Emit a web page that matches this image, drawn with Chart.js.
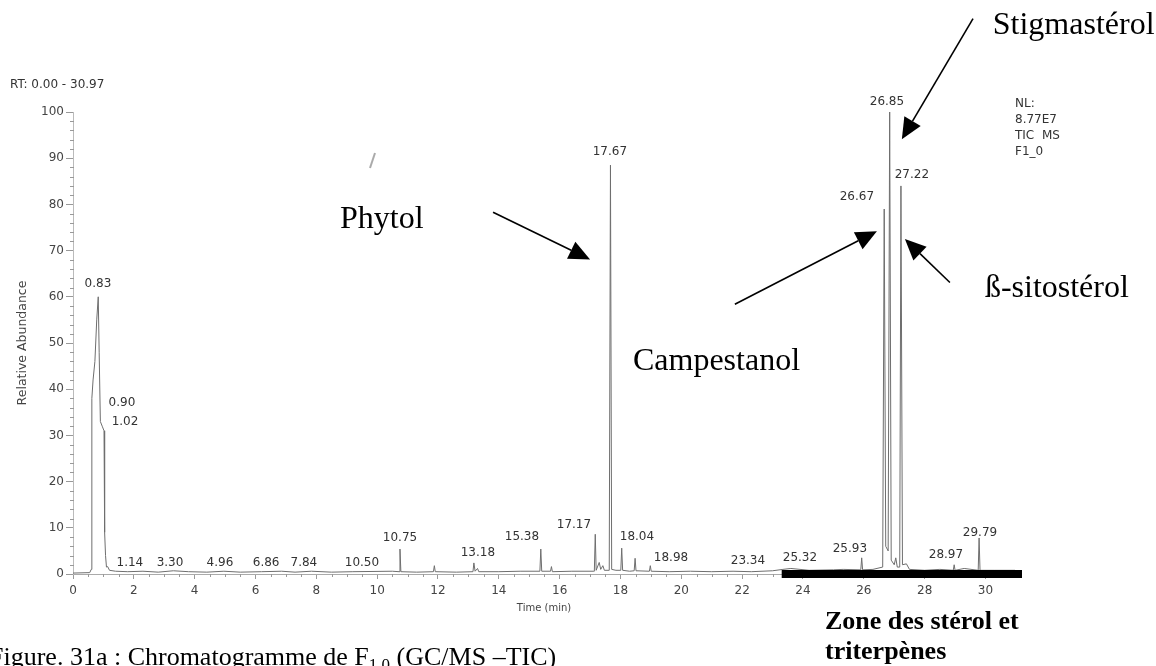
<!DOCTYPE html>
<html>
<head>
<meta charset="utf-8">
<title>Chromatogramme F1,0</title>
<script src="https://cdn.jsdelivr.net/npm/chart.js@4.4.1/dist/chart.umd.min.js"></script>
<style>
  html, body { margin: 0; padding: 0; background: #fff; }
  #wrap { position: relative; width: 1156px; height: 666px; overflow: hidden; }
</style>
</head>
<body>
<div id="wrap"><canvas id="chart" width="1156" height="666"></canvas></div>
<script>
// TIC trace : retention time (min) / relative abundance (%)
var retentionTimes = [
  0.00, 0.55, 0.60, 0.62, 0.66, 0.72, 0.78, 0.83, 0.86, 0.90, 0.96, 1.02, 1.04, 1.07, 1.10, 1.14, 1.20, 1.40,
  1.80, 2.30, 2.80, 3.30, 3.80, 4.40, 4.96, 5.50, 6.20, 6.86, 7.30, 7.84, 8.50, 9.20, 10.50,
  10.72, 10.75, 10.78, 11.30, 11.85, 11.88, 11.91, 12.60, 13.15, 13.18, 13.22, 13.30, 13.34,
  14.00, 14.70, 15.35, 15.38, 15.41, 15.70, 15.73, 15.76, 16.40, 17.10, 17.14, 17.17, 17.20,
  17.30, 17.35, 17.42, 17.47, 17.63, 17.67, 17.71, 17.85, 18.01, 18.04, 18.07, 18.30, 18.45,
  18.48, 18.51, 18.95, 18.98, 19.01, 19.60, 20.30, 21.00, 21.70, 22.30, 23.00, 23.34, 23.60,
  24.20, 25.00, 25.32, 25.90, 25.93, 25.96, 26.30, 26.62, 26.67, 26.72, 26.80, 26.85, 26.90,
  27.00, 27.05, 27.10, 27.18, 27.22, 27.27, 27.40, 27.50, 28.00, 28.50, 28.94, 28.97, 29.00,
  29.30, 29.76, 29.79, 29.82, 30.30, 30.97
];
var abundances = [
  0.2, 0.3, 1.0, 38, 42, 46, 55, 60, 48, 33, 32, 31, 9, 4, 1.5, 1.6, 0.8, 0.6,
  0.5, 0.6, 0.4, 0.7, 0.5, 0.4, 0.6, 0.4, 0.5, 0.6, 0.4, 0.6, 0.4, 0.5, 0.6,
  0.5, 5.4, 0.5, 0.4, 0.5, 1.8, 0.5, 0.4, 0.5, 2.4, 0.6, 1.2, 0.5,
  0.5, 0.6, 0.6, 5.4, 0.6, 0.6, 1.6, 0.5, 0.6, 0.6, 0.6, 8.6, 0.8,
  2.5, 1.0, 1.8, 0.8, 0.8, 88.5, 1.0, 0.8, 0.8, 5.6, 0.8, 0.6, 0.7,
  3.4, 0.7, 0.6, 1.8, 0.6, 0.5, 0.6, 0.5, 0.6, 0.5, 0.7, 1.0, 1.2,
  0.8, 0.9, 1.0, 0.9, 3.5, 0.9, 1.0, 1.5, 79, 6, 5, 100, 3,
  2, 3.5, 1.5, 1.5, 84, 2, 2.2, 1.0, 0.8, 1.0, 0.8, 2.0, 0.8,
  1.2, 0.8, 7.8, 0.8, 0.8, 0.8
];

// peak labels, placed at (time, level) as on the print-out
var peakLabels = ["0.83", "0.90", "1.02", "1.14", "3.30", "4.96", "6.86", "7.84", "10.50", "10.75", "13.18",
  "15.38", "17.17", "17.67", "18.04", "18.98", "23.34", "25.32", "25.93", "26.67", "26.85", "27.22", "28.97", "29.79"];
var labelTimes = [0.82, 1.61, 1.71, 1.87, 3.19, 4.83, 6.35, 7.59, 9.50, 10.75, 13.31,
  14.76, 16.47, 17.65, 18.54, 19.66, 22.19, 23.90, 25.54, 25.77, 26.76, 27.58, 28.70, 29.82];
var labelLevels = [62.7, 37.1, 33.0, 2.4, 2.4, 2.4, 2.4, 2.4, 2.4, 7.8, 4.6,
  8.0, 10.6, 91.3, 8.0, 3.5, 2.8, 3.5, 5.4, 81.6, 102.2, 86.3, 4.1, 8.9];

var yTicks = [0, 10, 20, 30, 40, 50, 60, 70, 80, 90, 100];
var xTicks = [0, 2, 4, 6, 8, 10, 12, 14, 16, 18, 20, 22, 24, 26, 28, 30];

// compounds pointed out on the figure
var compounds = ["Phytol", "Stigmastérol", "Campestanol", "ß-sitostérol"];
var compoundTimes = [8.78, 30.24, 18.41, 29.98];
var compoundLevels = [76.8, 118.6, 46.0, 61.8];
var arrowFromTimes = [13.81, 29.59, 21.76, 28.83];
var arrowFromLevels = [78.3, 120.2, 58.4, 63.1];
var arrowToTimes = [17.00, 27.25, 26.43, 27.35];
var arrowToLevels = [68.1, 94.1, 74.2, 72.5];

var sterolZone = [23.3, 31.2];

var tickFont = { family: "DejaVu Sans", size: 12 };
var grey = "#444";

function drawArrow(ctx, x1, y1, x2, y2) {
  var a = Math.atan2(y2 - y1, x2 - x1);
  var len = 21, half = 9.5;
  var bx = x2 - len * Math.cos(a), by = y2 - len * Math.sin(a);
  ctx.beginPath();
  ctx.moveTo(x1, y1);
  ctx.lineTo(bx, by);
  ctx.stroke();
  ctx.beginPath();
  ctx.moveTo(x2, y2);
  ctx.lineTo(bx + half * Math.sin(a), by - half * Math.cos(a));
  ctx.lineTo(bx - half * Math.sin(a), by + half * Math.cos(a));
  ctx.closePath();
  ctx.fill();
}

var overlay = {
  id: "overlay",
  afterDraw: function (chart) {
    var ctx = chart.ctx;
    var xs = chart.scales.x, ys = chart.scales.y;
    var area = chart.chartArea;
    ctx.save();

    // minor ticks
    ctx.strokeStyle = "#999";
    ctx.lineWidth = 1;
    ctx.beginPath();
    for (var v = 2; v < 100; v += 2) {
      if (v % 10 === 0) continue;
      var py = Math.round(ys.getPixelForValue(v)) + 0.5;
      ctx.moveTo(area.left - 3, py);
      ctx.lineTo(area.left + 1, py);
    }
    for (var t = 0.5; t < 30.97; t += 0.5) {
      if (t % 2 === 0) continue;
      var px = Math.round(xs.getPixelForValue(t)) + 0.5;
      ctx.moveTo(px, area.bottom);
      ctx.lineTo(px, area.bottom + 3);
    }
    ctx.stroke();

    // stray pen mark on the scan
    ctx.strokeStyle = "#aaa";
    ctx.lineWidth = 2;
    ctx.beginPath();
    ctx.moveTo(370, 168);
    ctx.lineTo(375, 153);
    ctx.stroke();

    // peak labels
    ctx.font = '12px "DejaVu Sans"';
    ctx.fillStyle = "#333";
    ctx.textAlign = "center";
    ctx.textBaseline = "middle";
    peakLabels.forEach(function (txt, i) {
      ctx.fillText(txt, xs.getPixelForValue(labelTimes[i]), ys.getPixelForValue(labelLevels[i]));
    });

    // header / trace info
    ctx.textAlign = "left";
    ctx.fillText("RT: 0.00 - 30.97", 10, 85);
    ["NL:", "8.77E7", "TIC  MS", "F1_0"].forEach(function (s, i) {
      ctx.fillText(s, 1015, 104 + i * 16);
    });

    // sterol zone bar
    ctx.fillStyle = "#000";
    var z0 = xs.getPixelForValue(sterolZone[0]), z1 = xs.getPixelForValue(sterolZone[1]);
    var zy = ys.getPixelForValue(0);
    ctx.fillRect(z0, zy - 4, z1 - z0, 8);

    // compound names + arrows
    ctx.font = '32px "Liberation Serif"';
    ctx.textBaseline = "middle";
    ctx.strokeStyle = "#000";
    ctx.lineWidth = 1.6;
    compounds.forEach(function (name, i) {
      ctx.fillText(name, xs.getPixelForValue(compoundTimes[i]), ys.getPixelForValue(compoundLevels[i]));
      drawArrow(ctx,
        xs.getPixelForValue(arrowFromTimes[i]), ys.getPixelForValue(arrowFromLevels[i]),
        xs.getPixelForValue(arrowToTimes[i]), ys.getPixelForValue(arrowToLevels[i]));
    });

    // zone caption
    ctx.font = 'bold 26px "Liberation Serif"';
    ctx.textBaseline = "alphabetic";
    ctx.fillText("Zone des stérol et", 825, 629);
    ctx.fillText("triterpènes", 825, 659);

    // figure caption (cut at the left edge like the scan)
    ctx.font = '26px "Liberation Serif"';
    var cx = -11, cy = 665;
    var part1 = "Figure. 31a : Chromatogramme de F";
    ctx.fillText(part1, cx, cy);
    cx += ctx.measureText(part1).width;
    ctx.font = '17px "Liberation Serif"';
    ctx.fillText("1,0", cx, cy + 5);
    cx += ctx.measureText("1,0").width;
    ctx.font = '26px "Liberation Serif"';
    ctx.fillText(" (GC/MS \u2013TIC)", cx, cy);

    ctx.restore();
  }
};

var points = retentionTimes.map(function (t, i) {
  return { x: t, y: abundances[i] };
});

var chart = new Chart(document.getElementById("chart"), {
  type: "line",
  data: {
    datasets: [{
      data: points,
      borderColor: "#6e6e6e",
      borderWidth: 1,
      pointRadius: 0,
      tension: 0,
      fill: false
    }]
  },
  options: {
    responsive: false,
    animation: false,
    layout: { padding: { top: 112, right: 141, bottom: 52, left: 0 } },
    plugins: { legend: { display: false }, tooltip: { enabled: false } },
    scales: {
      x: {
        type: "linear",
        min: 0,
        max: 30.97,
        afterBuildTicks: function (s) { s.ticks = xTicks.map(function (v) { return { value: v }; }); },
        afterFit: function (s) { s.height = 40; },
        ticks: { font: tickFont, color: grey, padding: 5, maxRotation: 0, autoSkip: false },
        grid: { drawOnChartArea: false, tickLength: 5, color: "#999" },
        border: { color: "#aaa" },
        title: { display: true, text: "Time (min)", font: { family: "DejaVu Sans", size: 10 }, color: grey, padding: 0 }
      },
      y: {
        min: 0,
        max: 100,
        afterBuildTicks: function (s) { s.ticks = yTicks.map(function (v) { return { value: v }; }); },
        afterFit: function (s) { s.width = 73; },
        ticks: { font: tickFont, color: grey, padding: 2 },
        grid: { drawOnChartArea: false, tickLength: 7, color: "#999" },
        border: { color: "#bbb", dash: [2, 2] },
        title: { display: true, text: "Relative Abundance", font: { family: "DejaVu Sans", size: 12.5 }, color: grey, padding: { top: 15, bottom: 0 } }
      }
    }
  },
  plugins: [overlay]
});
</script>
</body>
</html>
